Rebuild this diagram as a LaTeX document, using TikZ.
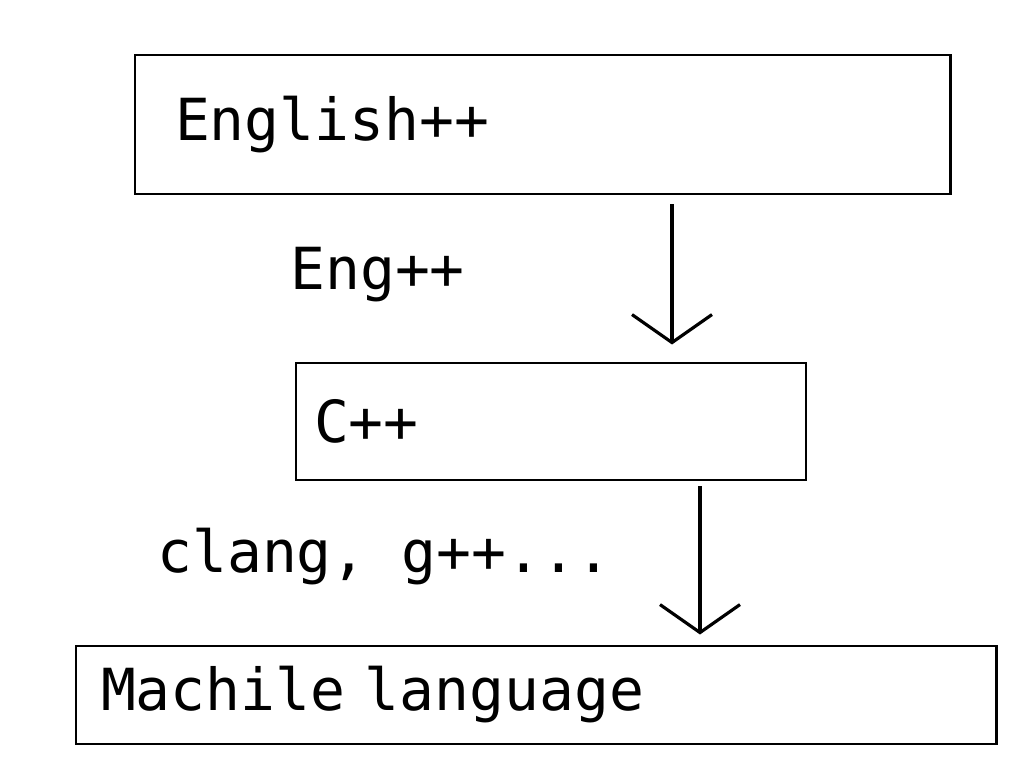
\documentclass[tikz,border=0pt]{standalone}
\usepackage{fontspec}
\setmonofont{DejaVu Sans Mono}
\usetikzlibrary{positioning,arrows.meta}

\begin{document}
\begin{tikzpicture}[
  langbox/.style={rectangle, draw=black, line width=1.7pt, align=left,
    font=\ttfamily\fontsize{33}{40}\selectfont, inner ysep=0pt},
  steplabel/.style={font=\ttfamily\fontsize{33}{40}\selectfont, inner sep=0pt, anchor=base west},
  conv/.style={line width=1.8pt, -{Straight Barb[length=5.6mm, width=16mm, line width=1.8pt]}}
]
  \useasboundingbox (0,0) rectangle (20.6,-15.22);

  \node[langbox, minimum width=16.3cm, minimum height=2.78cm, inner xsep=0.8cm, text width=14.7cm]
    (eng) at (10.85,-2.49) {\mbox{English++}};
  \node[langbox, minimum width=10.2cm, minimum height=2.34cm, inner xsep=0.36cm, text width=9.48cm]
    (cpp) at (11.02,-8.43) {\mbox{C++}};
  \node[langbox, minimum width=18.4cm, minimum height=1.96cm, inner xsep=0.5cm, text width=17.4cm]
    (mach) at (10.72,-13.9) {\mbox{Machile language}};

  \coordinate (x1) at (13.44,0);
  \coordinate (x2) at (14.0,0);

  \draw[conv, shorten <=0.18cm, shorten >=0.34cm] (eng.south -| x1) -- (cpp.north -| x1);
  \draw[conv, shorten <=0.1cm, shorten >=0.2cm] (cpp.south -| x2) -- (mach.north -| x2);

  \node[steplabel] (engpp) at (5.8,-5.8) {Eng++};
  \node[steplabel] (clang) at (3.14,-11.46) {clang, g++...};
\end{tikzpicture}
\end{document}
